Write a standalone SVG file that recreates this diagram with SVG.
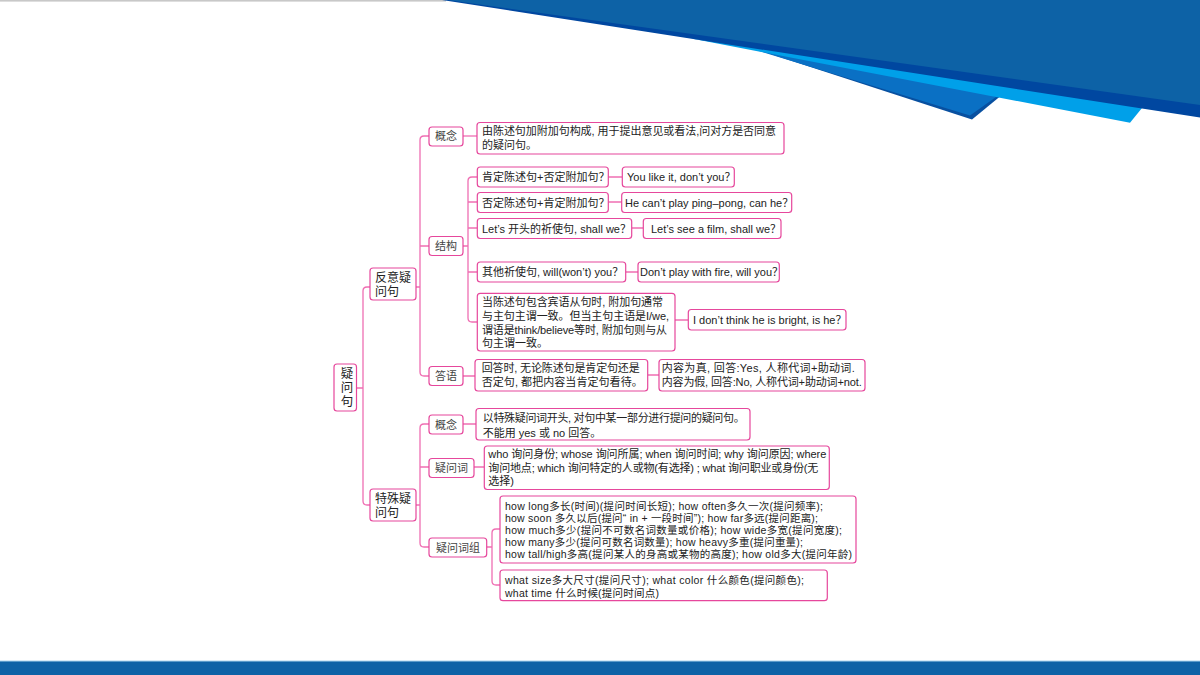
<svg xmlns="http://www.w3.org/2000/svg" width="1200" height="675" viewBox="0 0 1200 675">
<style>
.box{fill:#fff;stroke:#e6479c;stroke-width:1.2}
.ln{fill:none;stroke:#ef6fb3;stroke-width:1.3}
.t{font-family:"Liberation Sans","Noto Sans CJK SC",sans-serif;font-size:11px;fill:#222}
.s{font-size:10.5px}
.lb{font-family:"Liberation Sans","Noto Sans CJK SC",sans-serif;font-size:11px;fill:#444;text-anchor:middle}
.hd{font-family:"Liberation Sans","Noto Sans CJK SC",sans-serif;font-size:12px;fill:#222}
</style>
<rect width="1200" height="675" fill="#fff"/>
<g id="decoration">
<rect x="0" y="0" width="446" height="1.6" fill="#c8c8c8"/>
<polygon points="700,31 972,119.5 1000,96.5 900,60" fill="#0850a0"/>
<polygon points="700,33 970,115.5 996,97 900,62" fill="#0a70c4"/>
<polygon points="690,38.3 1130,122.7 1142,108 1142,98" fill="#00a0e9"/>
<polygon points="442,0 1200,0 1200,117.5" fill="#0047a0"/>
<polygon points="448,0 1200,0 1200,105" fill="#0d62a6"/>
<rect x="0" y="661" width="1200" height="14" fill="#0d62a6"/>
<rect x="0" y="660.5" width="1200" height="1" fill="#a8d4ee"/>
</g>
<g id="connectors" class="ln">
<path d="M357,388 H363 M370,287 H367 Q363,287 363,291 V501 Q363,505 367,505 H370"/>
<path d="M416,287 H420 M429,136 H424 Q420,136 420,140 V372 Q420,376 424,376 H429 M420,246 H429"/>
<path d="M463,136 H477"/>
<path d="M463,246 H468 M477,177 H472 Q468,177 468,181 V318 Q468,322 472,322 H477 M468,202 H477 M468,228 H477 M468,272 H477"/>
<path d="M608,177 H622 M608,202 H622 M632,228 H643 M626,272 H638 M675,320 H688"/>
<path d="M463,376 H475 M648,375 H659"/>
<path d="M416,505 H420 M429,424 H424 Q420,424 420,428 V543 Q420,547 424,547 H429 M420,467 H429"/>
<path d="M463,424 H476 M474,467 H484"/>
<path d="M487,547 H492 M500,529 H496 Q492,529 492,533 V581 Q492,585 496,585 H500"/>
</g>
<g id="root">
<rect class="box" x="334" y="364" width="22.5" height="47" rx="3"/>
<text class="hd" x="345.5" y="367" writing-mode="tb" letter-spacing="1.5" style="font-size:12.5px">疑问句</text>
</g>
<g id="fanyi">
<rect class="box" x="370" y="268" width="46" height="32" rx="3"/>
<text class="hd"><tspan x="375" y="282">反意疑</tspan><tspan x="375" y="296">问句</tspan></text>
</g>
<g id="teshu">
<rect class="box" x="370" y="489" width="46" height="32" rx="3"/>
<text class="hd"><tspan x="375" y="503">特殊疑</tspan><tspan x="375" y="517">问句</tspan></text>
</g>
<g id="gainian1">
<rect class="box" x="429" y="127" width="34" height="19" rx="3"/>
<text class="lb" x="446" y="140">概念</text>
</g>
<g id="gainian1-text">
<rect class="box" x="477" y="122.5" width="307" height="31.5" rx="3"/>
<text class="t"><tspan x="482" y="135" textLength="294">由陈述句加附加句构成, 用于提出意见或看法,问对方是否同意</tspan><tspan x="482" y="149">的疑问句。</tspan></text>
</g>
<g id="jiegou">
<rect class="box" x="429" y="236.5" width="34" height="19" rx="3"/>
<text class="lb" x="446" y="250">结构</text>
</g>
<g id="s1">
<rect class="box" x="477.3" y="167" width="131" height="20" rx="3"/>
<text class="t" x="482" y="181">肯定陈述句+否定附加句？</text>
</g>
<g id="s1e">
<rect class="box" x="622.3" y="167" width="112" height="20" rx="3"/>
<text class="t" x="627" y="181">You like it, don’t you？</text>
</g>
<g id="s2">
<rect class="box" x="477.3" y="192.5" width="131" height="20" rx="3"/>
<text class="t" x="482" y="206.5">否定陈述句+肯定附加句？</text>
</g>
<g id="s2e">
<rect class="box" x="621.7" y="192.5" width="170" height="20" rx="3"/>
<text class="t" x="625" y="206.5">He can’t play ping–pong, can he？</text>
</g>
<g id="s3">
<rect class="box" x="477.3" y="218.5" width="154.4" height="20" rx="3"/>
<text class="t" x="482" y="232.5">Let’s 开头的祈使句, shall we？</text>
</g>
<g id="s3e">
<rect class="box" x="643.3" y="218.5" width="137.7" height="20" rx="3"/>
<text class="t" x="651" y="232.5">Let’s see a film, shall we？</text>
</g>
<g id="s4">
<rect class="box" x="477.3" y="262" width="148.4" height="20" rx="3"/>
<text class="t" x="482" y="276">其他祈使句, will(won’t) you？</text>
</g>
<g id="s4e">
<rect class="box" x="638" y="262" width="141.3" height="20" rx="3"/>
<text class="t" x="640" y="276">Don’t play with fire, will you？</text>
</g>
<g id="s5">
<rect class="box" x="477.3" y="293.3" width="197.7" height="57.7" rx="3"/>
<text class="t"><tspan x="482" y="306" textLength="181">当陈述句包含宾语从句时, 附加句通常</tspan><tspan x="482" y="320" textLength="187">与主句主谓一致。但当主句主语是I/we,</tspan><tspan x="482" y="333.5" textLength="185">谓语是think/believe等时, 附加句则与从</tspan><tspan x="482" y="347">句主谓一致。</tspan></text>
</g>
<g id="s5e">
<rect class="box" x="688.3" y="309.5" width="157.7" height="20.5" rx="3"/>
<text class="t" x="693" y="324">I don’t think he is bright, is he？</text>
</g>
<g id="dayu">
<rect class="box" x="429" y="366.5" width="34" height="19" rx="3"/>
<text class="lb" x="446" y="380">答语</text>
</g>
<g id="dayu-text">
<rect class="box" x="475" y="359.5" width="172.7" height="31.5" rx="3"/>
<text class="t"><tspan x="481.7" y="372" textLength="158">回答时, 无论陈述句是肯定句还是</tspan><tspan x="481.7" y="386" textLength="161">否定句, 都把内容当肯定句看待。</tspan></text>
</g>
<g id="dayu-answer">
<rect class="box" x="659" y="359.5" width="206" height="31.5" rx="3"/>
<text class="t"><tspan x="661.7" y="372" textLength="193">内容为真, 回答:Yes, 人称代词+助动词.</tspan><tspan x="661.7" y="386" textLength="200">内容为假, 回答:No, 人称代词+助动词+not.</tspan></text>
</g>
<g id="gainian2">
<rect class="box" x="429" y="415" width="34" height="19" rx="3"/>
<text class="lb" x="446" y="428.5">概念</text>
</g>
<g id="gainian2-text">
<rect class="box" x="476" y="408.5" width="274" height="31.5" rx="3"/>
<text class="t"><tspan x="482.7" y="422" textLength="262">以特殊疑问词开头, 对句中某一部分进行提问的疑问句。</tspan><tspan x="482.7" y="436.5">不能用 yes 或 no 回答。</tspan></text>
</g>
<g id="yiwenci">
<rect class="box" x="429" y="458.5" width="45" height="19" rx="3"/>
<text class="lb" x="451.5" y="472">疑问词</text>
</g>
<g id="yiwenci-text">
<rect class="box" x="484.3" y="446" width="345" height="43.5" rx="3"/>
<text class="t"><tspan x="488.3" y="458" textLength="338">who 询问身份; whose 询问所属; when 询问时间; why 询问原因; where</tspan><tspan x="488.3" y="471.5" textLength="330">询问地点; which 询问特定的人或物(有选择) ; what 询问职业或身份(无</tspan><tspan x="488.3" y="485">选择)</tspan></text>
</g>
<g id="yiwencizu">
<rect class="box" x="429" y="538" width="57.7" height="19" rx="3"/>
<text class="lb" x="458" y="551.5">疑问词组</text>
</g>
<g id="how-text">
<rect class="box" x="500" y="496" width="356" height="67" rx="3"/>
<text class="t s"><tspan x="505" y="509.5" textLength="318">how long多长(时间)(提问时间长短); how often多久一次(提问频率);</tspan><tspan x="505" y="521.5" textLength="313">how soon 多久以后(提问“ in + 一段时间”); how far多远(提问距离);</tspan><tspan x="505" y="533.5" textLength="337">how much多少(提问不可数名词数量或价格); how wide多宽(提问宽度);</tspan><tspan x="505" y="545.5" textLength="298">how many多少(提问可数名词数量); how heavy多重(提问重量);</tspan><tspan x="505" y="558" textLength="347">how tall/high多高(提问某人的身高或某物的高度); how old多大(提问年龄)</tspan></text>
</g>
<g id="what-text">
<rect class="box" x="500" y="570" width="327.3" height="30.7" rx="3"/>
<text class="t s"><tspan x="505" y="584" textLength="299">what size多大尺寸(提问尺寸); what color 什么颜色(提问颜色);</tspan><tspan x="505" y="596.5" textLength="154">what time 什么时候(提问时间点)</tspan></text>
</g>
</svg>
